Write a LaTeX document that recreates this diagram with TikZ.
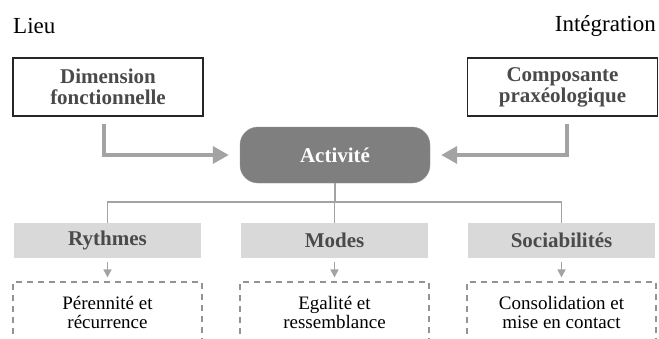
\documentclass[tikz,border=0pt]{standalone}
\usepackage{fontspec}
\setmainfont{Liberation Serif}
\usetikzlibrary{arrows.meta,positioning}

\definecolor{lignegris}{HTML}{A3A3A3}
\definecolor{textegris}{HTML}{4A4A4A}
\definecolor{fondgris}{HTML}{D9D9D9}
\definecolor{actgris}{HTML}{7F7F7F}

\begin{document}
\begin{tikzpicture}
	[x=1pt,y=-1pt,
	titre/.style={font=\fontsize{23}{26}\selectfont, inner sep=0pt},
	cadre/.style={draw=black!85, line width=1.1pt, minimum width=190pt, minimum height=58pt, align=center, text=textegris, font=\fontsize{21}{21}\selectfont\bfseries},
	centre/.style={rounded corners=18pt, fill=actgris, draw=actgris!85, minimum width=190pt, minimum height=56pt, text=white, font=\fontsize{21}{21}\selectfont\bfseries},
	cat/.style={fill=fondgris, minimum width=187pt, minimum height=35pt, text=textegris, font=\fontsize{21}{21}\selectfont\bfseries},
	sous/.style={draw=lignegris!90!black, dash pattern=on 6pt off 5pt, line width=1.1pt, minimum width=189pt, minimum height=60pt, align=center, font=\fontsize{19}{19}\selectfont},
	grosse/.style={draw=lignegris, line width=3.5pt, -{Triangle[length=16pt,width=17pt]}, shorten >=11pt},
	fine/.style={draw=lignegris, line width=1.5pt},
	petite/.style={fine, -{Triangle[length=8pt,width=8pt]}, shorten <=4pt, shorten >=4pt}]
	\useasboundingbox (0,0) rectangle (659,338);

	\node[titre, anchor=west] (lieu) at (13,26) {Lieu};
	\node[titre, anchor=east] (integ) at (656,26) {Intégration};

	\node[cadre] (dim) at (108,87) {Dimension\\fonctionnelle};
	\node[cadre] (comp) at (562.5,87) {Composante\\praxéologique};
	\node[centre] (act) at (335,155) {Activité};

	\node[cat] (ryth) at (107.5,240.5) {Rythmes};
	\node[cat] (modes) at (334.5,240.5) {Modes};
	\node[cat] (socia) at (561.5,240.5) {Sociabilités};

	\node[sous] (peren) at (107.5,312) {Pérennité et\\récurrence};
	\node[sous] (egal) at (334.5,312) {Egalité et\\ressemblance};
	\node[sous] (conso) at (561.5,312) {Consolidation et\\mise en contact};

	% fleches vers l'activite
	\draw[grosse] (dim.south) ++(-4,7) |- (act.west);
	\draw[grosse] (comp.south) ++(4.5,7) |- (act.east);

	% arbre
	\draw[fine] (act.south) -- ++(0,19) coordinate (noeud);
	\foreach \cible in {ryth,modes,socia}
	\draw[fine] (noeud) -| (\cible.north);
	\foreach \from/\to in {ryth/peren,modes/egal,socia/conso}
	\draw[petite] (\from) -- (\to);
\end{tikzpicture}
\end{document}
